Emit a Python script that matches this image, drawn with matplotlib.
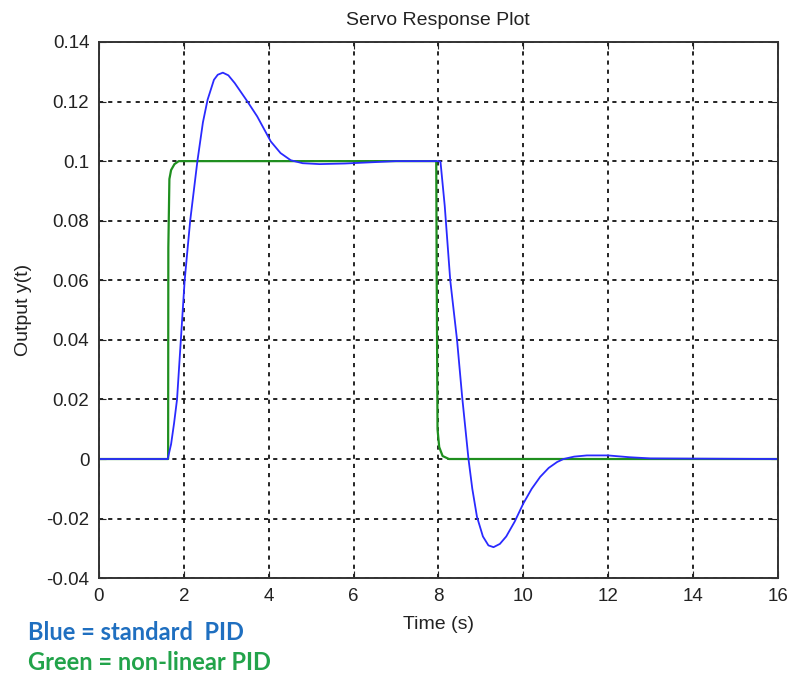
import numpy as np
import matplotlib
matplotlib.use("Agg")
import matplotlib.pyplot as plt

# standard PID (blue)
t_blue = [0.0, 1.62, 1.70, 1.77, 1.84, 1.93, 2.02, 2.15, 2.32, 2.45, 2.56, 2.71,
          2.80, 2.92, 3.05, 3.20, 3.50, 3.73, 4.05, 4.28, 4.52, 4.80, 5.20, 5.80,
          6.40, 7.00, 8.00, 8.05, 8.15, 8.28, 8.44, 8.56, 8.71, 8.80, 8.91, 9.05,
          9.18, 9.30, 9.45, 9.60, 9.80, 10.00, 10.20, 10.40, 10.60, 10.80, 10.95,
          11.20, 11.50, 12.00, 12.50, 13.00, 16.00]
y_blue = [0.0, 0.0, 0.005, 0.012, 0.020, 0.040, 0.060, 0.080, 0.100, 0.113, 0.1206, 0.1273,
          0.1290, 0.1297, 0.1288, 0.1262, 0.1200, 0.1150, 0.1066, 0.1027, 0.1003, 0.0993, 0.0990, 0.0992,
          0.0996, 0.1000, 0.1000, 0.0998, 0.0850, 0.0600, 0.0400, 0.0210, 0.0000, -0.0100, -0.0194, -0.0260,
          -0.0290, -0.0296, -0.0285, -0.0260, -0.0210, -0.0150, -0.0100, -0.0060, -0.0030, -0.0010, 0.0000,
          0.0008, 0.0012, 0.0012, 0.0006, 0.0002, 0.0]

# non-linear PID (green)
t_green = [0.0, 1.63, 1.635, 1.66, 1.70, 1.78, 1.88, 7.95, 7.96, 7.98, 8.02, 8.10, 8.25, 16.0]
y_green = [0.0, 0.0, 0.071, 0.094, 0.097, 0.099, 0.100, 0.100, 0.064, 0.010, 0.004, 0.001, 0.0, 0.0]

x_ticks = [0, 2, 4, 6, 8, 10, 12, 14, 16]
y_ticks = [-0.04, -0.02, 0, 0.02, 0.04, 0.06, 0.08, 0.1, 0.12, 0.14]
y_tick_labels = ["-0.04", "-0.02", "0", "0.02", "0.04", "0.06", "0.08", "0.1", "0.12", "0.14"]

plt.rcParams['font.family'] = ['Liberation Sans', 'DejaVu Sans']

fig = plt.figure(figsize=(7.88, 6.77), dpi=100)
ax = fig.add_axes([0.1256, 0.146, 0.8614, 0.792])

ax.plot(t_green, y_green, color='#1f8f1f', lw=1.6, zorder=3)
ax.plot(t_blue, y_blue, color='#2a2aff', lw=1.3, zorder=4)

ax.set_xlim(0, 16)
ax.set_ylim(-0.04, 0.14)
ax.set_xticks(x_ticks)
ax.set_yticks(y_ticks)
ax.set_yticklabels(y_tick_labels)
ax.tick_params(direction='in', top=True, right=True, length=5, labelsize=13.5,
               colors='#222222', pad=7)
ax.grid(True, color='black', linestyle=(0, (2.5, 3)), linewidth=1.2)
for s in ax.spines.values():
    s.set_color('#333333')
    s.set_linewidth(1.4)
    s.set_zorder(5)

ax.set_title('Servo Response Plot', fontsize=14, color='#222222', pad=12)
ax.set_xlabel('Time (s)', fontsize=14, color='#222222', labelpad=8)
ax.set_ylabel('Output y(t)', fontsize=14, color='#222222', labelpad=10)

# legend notes under the plot
fig.text(28 / 788, 1 - 632 / 677, 'Blue = standard  PID', color='#1f6fc0',
         fontsize=17, fontweight='bold', family=['Lato', 'DejaVu Sans'], va='center')
fig.text(28 / 788, 1 - 663 / 677, 'Green = non-linear PID', color='#22a34a',
         fontsize=17, fontweight='bold', family=['Lato', 'DejaVu Sans'], va='center')

fig.savefig('out.png', dpi=100)
